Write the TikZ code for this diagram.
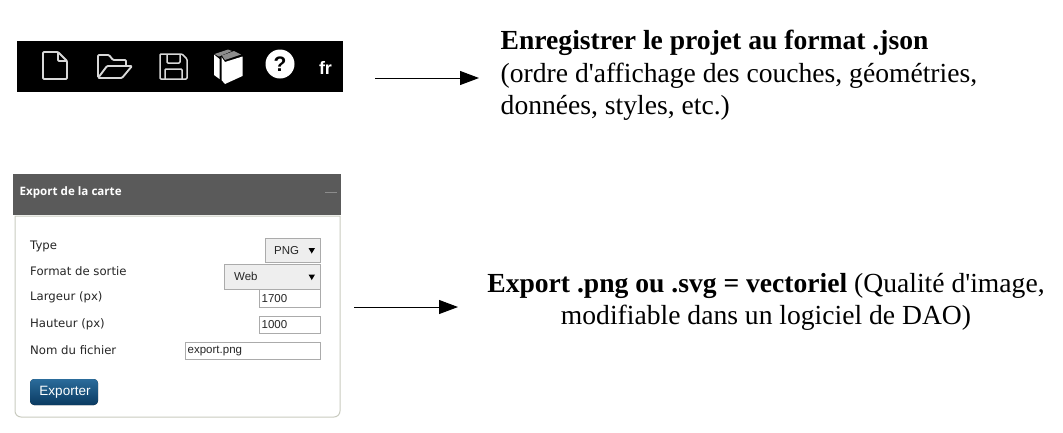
\documentclass[tikz,border=0pt]{standalone}
\usepackage{fontspec}
\setmainfont{Liberation Serif}
\newfontfamily\notefont{Liberation Serif}
\newfontfamily\uifont{DejaVu Sans}
\newfontfamily\btnfont{Liberation Sans}
\newfontfamily\headfont{Open Sans}
\usetikzlibrary{arrows.meta}
\usetikzlibrary{positioning}
\definecolor{headgray}{HTML}{5A5A5A}
\definecolor{panelline}{HTML}{C9CBC0}
\definecolor{boxline}{HTML}{ABABAB}
\definecolor{selectbg}{HTML}{EEEEEE}
\definecolor{btntop}{HTML}{2B6C9B}
\definecolor{btnbottom}{HTML}{0A3A61}
\definecolor{icongray}{HTML}{D8D8D8}
\begin{document}
\begin{tikzpicture}[
	x=1pt, y=-1pt,
	normal line/.style={-{Triangle[length=19pt,width=14pt]}, line width=1pt},
	note/.style={font=\notefont\fontsize{27.6}{32.5}\selectfont, inner sep=0pt},
	formlabel/.style={font=\uifont\fontsize{11.7}{13}\selectfont, text=black!85, anchor=west, inner sep=0pt},
	selectbox/.style={draw=boxline, fill=selectbg, line width=0.9pt},
	inputbox/.style={draw=boxline, fill=white, line width=0.9pt},
	boxtext/.style={font=\btnfont\fontsize{11.5}{13}\selectfont, text=black!85, anchor=west, inner sep=0pt},
	icon/.style={draw=icongray, line width=1.9pt, line join=round, rounded corners=1pt}
	]
\useasboundingbox (0,0) rectangle (1063,432);
% toolbar
\fill[black] (17,41) rectangle (343,92);
\coordinate (bar) at (375,78);
\draw[icon] (43,52) -- (58,52) -- (67,61) -- (67,79) -- (43,79) -- cycle;
\draw[icon] (58,52) -- (58,61) -- (67,61);
\draw[icon] (98,77) -- (98,55) -- (109,55) -- (113,60) -- (126,60) -- (126,66);
\draw[icon] (98,78) -- (107,66) -- (132,66) -- (122,78) -- cycle;
\draw[icon, line width=1.5pt] (160,54) -- (182,54) -- (187,59) -- (187,79) -- (160,79) -- cycle;
\draw[icon, line width=1.5pt] (167,54) -- (167,63) -- (180,63) -- (180,54);
\draw[icon, line width=1.5pt] (165,79) -- (165,69) -- (182,69) -- (182,79);
% books
\fill[white] (214,54.5) -- (219.5,59) -- (219.5,79) -- (214,75) -- cycle;
\fill[white] (221.5,57) -- (225,62) -- (242.5,56.5) -- (242.5,76) -- (225,84) -- (221.5,80) -- cycle;
\fill[black!45] (214.5,54) -- (228,49.5) -- (232,51) -- (219,56.5) -- cycle;
\fill[black!45] (222,55.5) -- (234,51) -- (241,54.5) -- (225,60) -- cycle;
\fill[white] (280,64) circle (14.5);
\node[font=\btnfont\bfseries\fontsize{21}{21}\selectfont, text=black, inner sep=0pt] (help) at (280,64) {?};
\node[font=\btnfont\bfseries\fontsize{18}{18}\selectfont, text=white, inner sep=0pt] (lang) at (325.5,67.5) {fr};
% panel
\fill[headgray] (13,174) rectangle (341,215);
\node[font=\headfont\bfseries\fontsize{11.6}{13}\selectfont, text=white, anchor=west, inner sep=0pt] (title) at (19.5,192.5) {Export de la carte};
\draw[line width=1pt, black!45] (325,192) -- (337,192);
\draw[draw=panelline, fill=white, line width=1pt] (15,216) -- (340,216) -- (340,411) arc[start angle=0, end angle=90, radius=6] -- (21,417) arc[start angle=90, end angle=180, radius=6] -- cycle;
\node[formlabel] (type) at (30,246) {Type};
\node[formlabel] (format) at (30,271.5) {Format de sortie};
\node[formlabel] (largeur) at (30,297.5) {Largeur (px)};
\node[formlabel] (hauteur) at (30,324.5) {Hauteur (px)};
\node[formlabel] (nom) at (30,350) {Nom du fichier};
\draw[selectbox] (265,238) rectangle (320.5,262);
\draw[selectbox] (224,264) rectangle (320.5,289);
\draw[inputbox] (259,289) rectangle (320.5,307.5);
\draw[inputbox] (259,316) rectangle (320.5,333.5);
\draw[inputbox] (185,342) rectangle (320.5,359.5);
\node[boxtext] (png) at (274,250.5) {PNG};
\fill[black] (308.5,248) -- (315,248) -- (311.75,253.5) -- cycle;
\node[boxtext] (web) at (234,276.5) {Web};
\fill[black] (308.5,274.5) -- (315,274.5) -- (311.75,280) -- cycle;
\node[boxtext] (w) at (261.5,299) {1700};
\node[boxtext] (h) at (261.5,325) {1000};
\node[boxtext] (file) at (187.5,351) {export.png};
\fill[top color=btntop, bottom color=btnbottom, rounded corners=4pt] (30,379) rectangle (98,405);
\node[font=\btnfont\fontsize{13.5}{15}\selectfont, text=white, inner sep=0pt] (exporter) at (65,392) {Exporter};
\coordinate (form) at (354,307);
% notes
\node[note, anchor=north west, align=left] (projet) at (500.5,30) {\textbf{Enregistrer le projet au format .json}\\(ordre d'affichage des couches, géométries,\\données, styles, etc.)};
\node[note, align=center] (vect) at (766,302) {\textbf{Export .png ou .svg = vectoriel} (Qualité d'image,\\modifiable dans un logiciel de DAO)};
\coordinate (projetin) at (479,78);
\coordinate (vectin) at (458,307);
\path (bar) edge[normal line] (projetin);
\path (form) edge[normal line] (vectin);
\end{tikzpicture}
\end{document}
